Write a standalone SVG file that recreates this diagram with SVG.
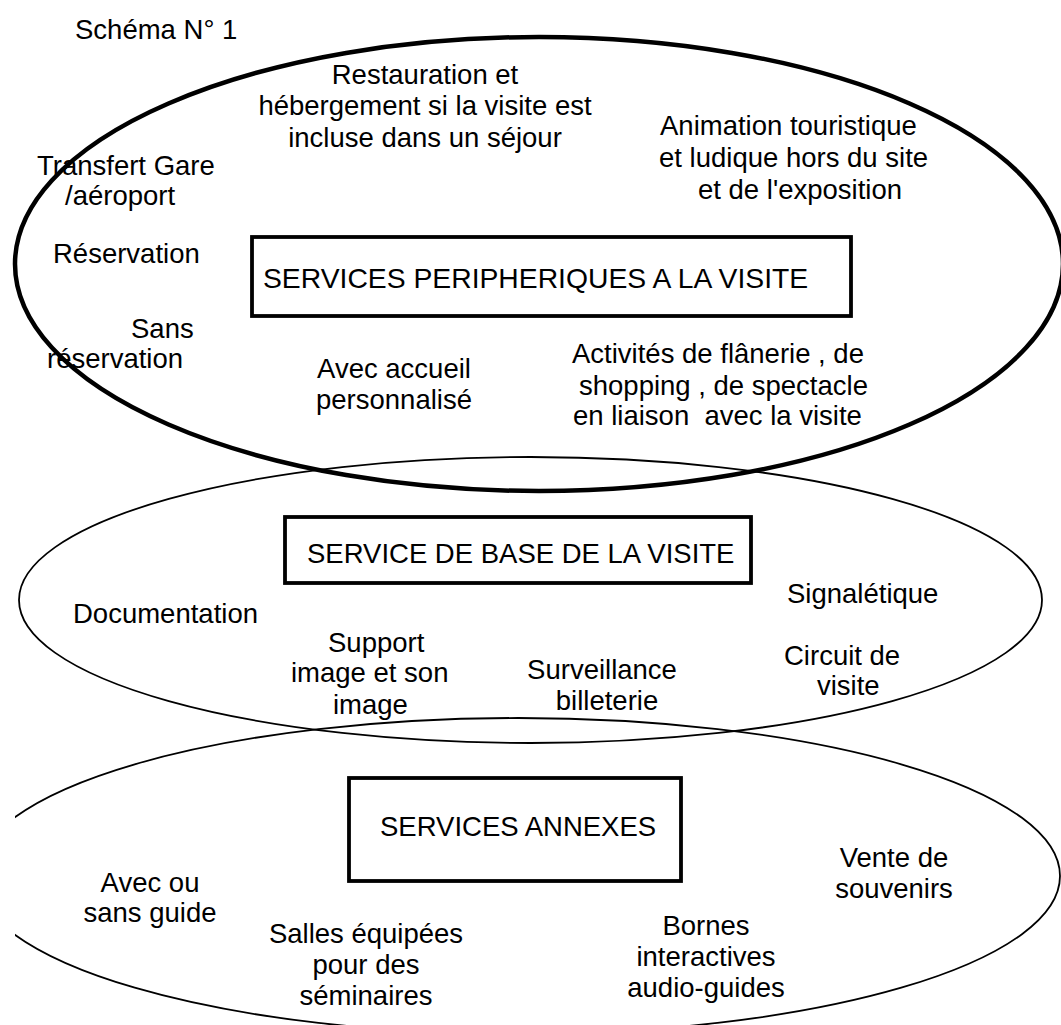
<svg xmlns="http://www.w3.org/2000/svg" width="1061" height="1025" viewBox="0 0 1061 1025">
  <style>
    text { font-family: "Liberation Sans", Arial, sans-serif; font-size: 27.5px; fill: #000; }
    .mid { text-anchor: middle; }
    .title { font-size: 28.3px; }
    .ring { fill: none; stroke: #000; }
    .ring-main { stroke-width: 4.5; }
    .ring-thin { stroke-width: 1.8; }
    .box { fill: #fff; stroke: #000; stroke-width: 3.8; }
  </style>
  <defs>
    <clipPath id="clip-left">
      <rect x="15" y="0" width="1046" height="1025"/>
    </clipPath>
  </defs>
  <rect x="0" y="0" width="1061" height="1025" fill="#fff"/>

  <text x="75" y="39">Schéma N° 1</text>

  <!-- Outer ring: peripheral services -->
  <g id="peripheriques">
    <ellipse class="ring ring-main" cx="539" cy="264" rx="524" ry="227"/>
    <rect class="box" x="252" y="237" width="599" height="79"/>
    <text class="title" x="263" y="288">SERVICES PERIPHERIQUES A LA VISITE</text>
    <text class="mid" x="425" y="83.5">Restauration et</text>
    <text class="mid" x="425" y="115">hébergement si la visite est</text>
    <text class="mid" x="425" y="146.5">incluse dans un séjour</text>
    <text x="660" y="135">Animation touristique</text>
    <text x="659" y="167">et ludique hors du site</text>
    <text x="698" y="199">et de l'exposition</text>
    <text x="37" y="175">Transfert Gare</text>
    <text x="65" y="205">/aéroport</text>
    <text x="53" y="263">Réservation</text>
    <text x="131" y="338">Sans</text>
    <text x="47" y="368">réservation</text>
    <text class="mid" x="394" y="378">Avec accueil</text>
    <text class="mid" x="394" y="409">personnalisé</text>
    <text x="572" y="363">Activités de flânerie , de</text>
    <text x="579" y="395">shopping , de spectacle</text>
    <text x="573" y="425" xml:space="preserve">en liaison  avec la visite</text>
  </g>

  <!-- Middle ring: core service -->
  <g id="base">
    <ellipse class="ring ring-thin" cx="530.5" cy="600" rx="511.5" ry="143"/>
    <rect class="box" x="285" y="517" width="466" height="66"/>
    <text x="307" y="563">SERVICE DE BASE DE LA VISITE</text>
    <text x="73" y="622.5">Documentation</text>
    <text x="328" y="652">Support</text>
    <text x="291" y="682">image et son</text>
    <text x="333" y="714">image</text>
    <text class="mid" x="602" y="679">Surveillance</text>
    <text class="mid" x="607" y="710">billeterie</text>
    <text x="787" y="603">Signalétique</text>
    <text x="784" y="665">Circuit de</text>
    <text x="817" y="695">visite</text>
  </g>

  <!-- Lower ring: additional services -->
  <g id="annexes">
    <ellipse class="ring ring-thin" cx="518" cy="876" rx="542" ry="158" clip-path="url(#clip-left)"/>
    <rect class="box" x="349" y="778" width="332" height="103"/>
    <text x="380" y="836">SERVICES ANNEXES</text>
    <text class="mid" x="150" y="892">Avec ou</text>
    <text class="mid" x="150" y="922">sans guide</text>
    <text class="mid" x="366" y="943">Salles équipées</text>
    <text class="mid" x="366" y="974">pour des</text>
    <text class="mid" x="366" y="1005">séminaires</text>
    <text class="mid" x="706" y="935">Bornes</text>
    <text class="mid" x="706" y="966">interactives</text>
    <text class="mid" x="706" y="997">audio-guides</text>
    <text class="mid" x="894" y="867">Vente de</text>
    <text class="mid" x="894" y="898">souvenirs</text>
  </g>

  <g id="connectors"/>
</svg>
